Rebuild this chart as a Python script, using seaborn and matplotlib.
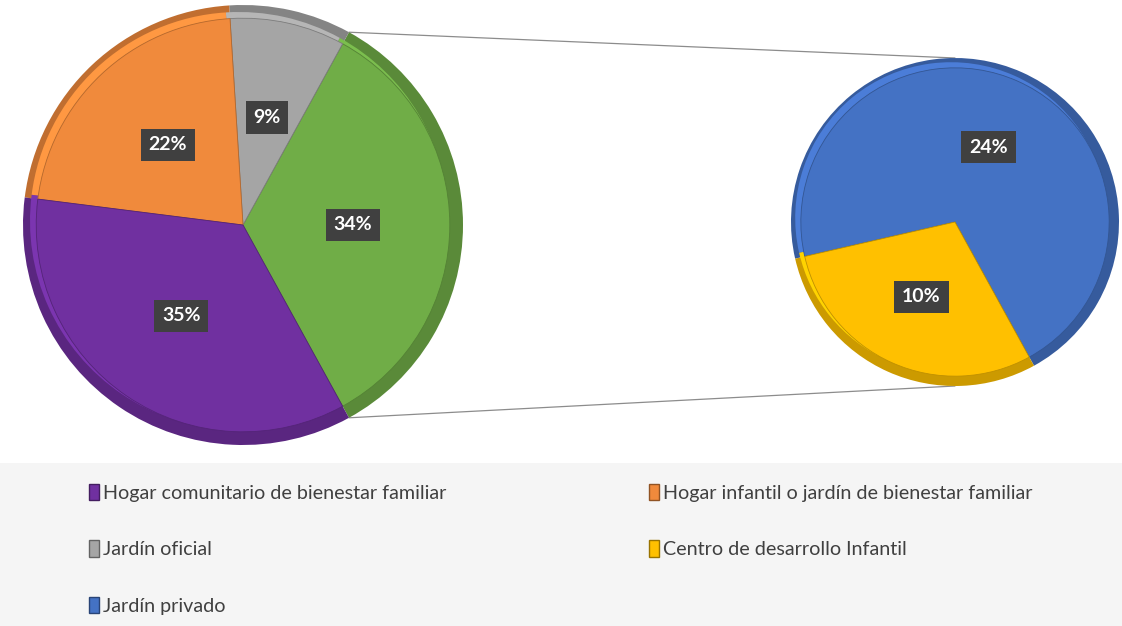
import numpy as np
import matplotlib.pyplot as plt
import matplotlib.patches as mpatches
import seaborn as sns

# data
main_labels = ["Hogar comunitario de bienestar familiar",
               "Hogar infantil o jardín de bienestar familiar",
               "Jardín oficial"]
main_values = [35, 22, 9]
sub_labels = ["Centro de desarrollo Infantil", "Jardín privado"]
sub_values = [10, 24]

main_colors = ["#7030A0", "#F08A3C", "#A5A5A5"]
sub_colors = ["#FFC000", "#4472C4"]
other_color = "#70AD47"

sns.set_theme(style="white")
plt.rcParams['font.family'] = ['Lato', 'DejaVu Sans']

fig = plt.figure(figsize=(11.22, 6.26), dpi=100)
ax = fig.add_axes([0, 0, 1, 1])

# grey band behind the legend
fig.patches.append(mpatches.Rectangle((0, 0), 1, 163 / 626, transform=fig.transFigure,
                                      facecolor="#f5f5f5", edgecolor="none", zorder=-1))

other = sum(sub_values)
total = sum(main_values) + other
start = -other / total * 180

left_c, left_r = (243, 401), 220
right_c, right_r = (955, 404), 164

left_vals = [other, main_values[2], main_values[1], main_values[0]]
left_cols = [other_color, main_colors[2], main_colors[1], main_colors[0]]
right_vals = [sub_values[1], sub_values[0]]
right_cols = [sub_colors[1], sub_colors[0]]

label_style = dict(color='white', fontweight='bold', fontsize=14)


def shade(c, f):
    rgb = np.array(sns.utils.to_rgb(c))
    return tuple(np.clip(rgb * f, 0, 1))


def draw_pie(vals, cols, center, radius, fmt):
    # darker rim, then a lighter highlight, then the face
    ax.pie(vals, colors=[shade(c, 0.8) for c in cols], startangle=start, counterclock=True,
           center=center, radius=radius, frame=True, wedgeprops=dict(edgecolor='none'))
    ax.pie(vals, colors=[shade(c, 1.1) for c in cols], startangle=start, counterclock=True,
           center=(center[0] - 4, center[1] + 4), radius=radius * 0.95, frame=True,
           wedgeprops=dict(edgecolor='none'))
    wedges, texts, autotexts = ax.pie(vals, colors=cols, startangle=start, counterclock=True,
                                      center=center, radius=radius * 0.94, frame=True,
                                      autopct=fmt, pctdistance=0.5 / 0.94,
                                      textprops=label_style)
    for w, c in zip(wedges, cols):
        w.set_edgecolor(shade(c, 0.75))
        w.set_linewidth(0.6)
    for t in autotexts:
        t.set_bbox(dict(boxstyle='square,pad=0.4', facecolor='#404040', edgecolor='none'))
    return wedges


draw_pie(left_vals, left_cols, left_c, left_r, lambda p: f"{p:.0f}%")
draw_pie(right_vals, right_cols, right_c, right_r, lambda p: f"{p * other / 100:.0f}%")

ax.set_xlim(0, 1122)
ax.set_ylim(0, 626)
ax.set_aspect('equal')
ax.axis('off')

# connector lines from the "other" slice to the second pie
a = np.deg2rad(start)
for s in (1, -1):
    x0 = left_c[0] + left_r * np.cos(a)
    y0 = left_c[1] - s * left_r * np.sin(a)
    ax.plot([x0, right_c[0]], [y0, right_c[1] + s * right_r], color='#8c8c8c', lw=0.9, zorder=0)


# legend
def handles(labels, cols):
    return [mpatches.Patch(facecolor=c, edgecolor=shade(c, 0.6), label=l) for l, c in zip(labels, cols)]


leg_kw = dict(loc='upper left', frameon=False, fontsize=14.2, labelspacing=1.95,
              handlelength=0.55, handleheight=0.9, handletextpad=0.2,
              borderaxespad=0, borderpad=0, labelcolor='#404040')
fig.legend(handles=handles([main_labels[0], main_labels[2], sub_labels[1]],
                           [main_colors[0], main_colors[2], sub_colors[1]]),
           bbox_to_anchor=(0.079, 0.227), **leg_kw)
fig.legend(handles=handles([main_labels[1], sub_labels[0]],
                           [main_colors[1], sub_colors[0]]),
           bbox_to_anchor=(0.578, 0.227), **leg_kw)

fig.savefig("out.png", dpi=100)
